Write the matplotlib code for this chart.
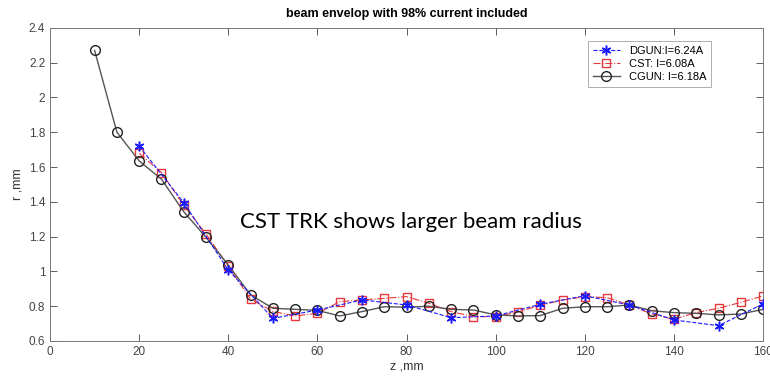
import matplotlib
matplotlib.use("Agg")
import matplotlib.pyplot as plt

# ─── Data ─────────────────────────────────────────────────────────────────────
z_dgun = [20, 30, 40, 50, 60, 70, 80, 90, 100, 110, 120, 130, 140, 150, 160]
r_dgun = [1.72, 1.395, 1.008, 0.730, 0.778, 0.836, 0.807, 0.734, 0.744,
          0.811, 0.860, 0.807, 0.721, 0.688, 0.813]

z_cst = [20, 25, 30, 35, 40, 45, 50, 55, 60, 65, 70, 75, 80, 85, 90, 95,
         100, 105, 110, 115, 120, 125, 130, 135, 140, 145, 150, 155, 160]
r_cst = [1.679, 1.568, 1.380, 1.215, 1.030, 0.840, 0.770, 0.744, 0.759,
         0.826, 0.836, 0.845, 0.855, 0.817, 0.769, 0.740, 0.740, 0.767,
         0.805, 0.836, 0.855, 0.849, 0.807, 0.755, 0.725, 0.763, 0.788,
         0.822, 0.859]

z_cgun = [10, 15, 20, 25, 30, 35, 40, 45, 50, 55, 60, 65, 70, 75, 80, 85,
          90, 95, 100, 105, 110, 115, 120, 125, 130, 135, 140, 145, 150,
          155, 160]
r_cgun = [2.27, 1.80, 1.635, 1.530, 1.343, 1.196, 1.037, 0.865, 0.788,
          0.782, 0.776, 0.744, 0.769, 0.797, 0.794, 0.800, 0.782, 0.778,
          0.750, 0.744, 0.746, 0.788, 0.797, 0.797, 0.807, 0.774, 0.763,
          0.759, 0.750, 0.755, 0.782]

x_ticks = [0, 20, 40, 60, 80, 100, 120, 140, 160]
y_ticks = [0.6, 0.8, 1.0, 1.2, 1.4, 1.6, 1.8, 2.0, 2.2, 2.4]
y_labels = ["0.6", "0.8", "1", "1.2", "1.4", "1.6", "1.8", "2", "2.2", "2.4"]

# ─── Figure ───────────────────────────────────────────────────────────────────
plt.rcParams["font.family"] = ["Liberation Sans", "DejaVu Sans"]

fig = plt.figure(figsize=(7.7, 3.81), dpi=100)
ax = fig.add_axes([0.065, 0.105, 0.926, 0.822])

# MATLAB-style asterisk marker for DGUN
ax.plot(z_dgun, r_dgun, linestyle="--", color="#1a1aff", lw=0.8,
        marker=(6, 2, 0), ms=7, mec="#1a1aff", mew=1.1,
        label="DGUN:I=6.24A", zorder=3)
ax.plot(z_cst, r_cst, linestyle="-.", color="#e8383d", lw=0.8,
        marker="s", ms=6, mfc="none", mec="#e8383d", mew=1.0,
        label="CST: I=6.08A", zorder=2)
ax.plot(z_cgun, r_cgun, linestyle="-", color="#555555", lw=1.0,
        marker="o", ms=7, mfc="none", mec="#222222", mew=1.0,
        label="CGUN: I=6.18A", zorder=2)

ax.set_xlim(0, 160)
ax.set_ylim(0.6, 2.4)
ax.set_xticks(x_ticks)
ax.set_yticks(y_ticks)
ax.set_yticklabels(y_labels)
ax.tick_params(direction="in", top=True, right=True, length=5,
               colors="#444444", labelsize=8.5, width=0.6)
for s in ax.spines.values():
    s.set_color("#777777")
    s.set_linewidth(0.7)

ax.set_xlabel("z ,mm", fontsize=9, color="#333333", labelpad=2)
ax.set_ylabel("r ,mm", fontsize=9, color="#333333", labelpad=4)
ax.set_title("beam envelop with 98% current included", fontsize=9,
             fontweight="bold", pad=8)

leg = ax.legend(loc="upper right", bbox_to_anchor=(0.935, 0.975),
                fontsize=8, frameon=True, fancybox=False,
                handlelength=2.5, borderpad=0.4, labelspacing=0.3)
leg.get_frame().set_edgecolor("#999999")
leg.get_frame().set_linewidth(0.7)

ax.text(0.266, 0.36, "CST TRK shows larger beam radius",
        transform=ax.transAxes, fontsize=16, family=["Lato", "DejaVu Sans"],
        color="black")

plt.savefig("out.png", dpi=100)
plt.close()
